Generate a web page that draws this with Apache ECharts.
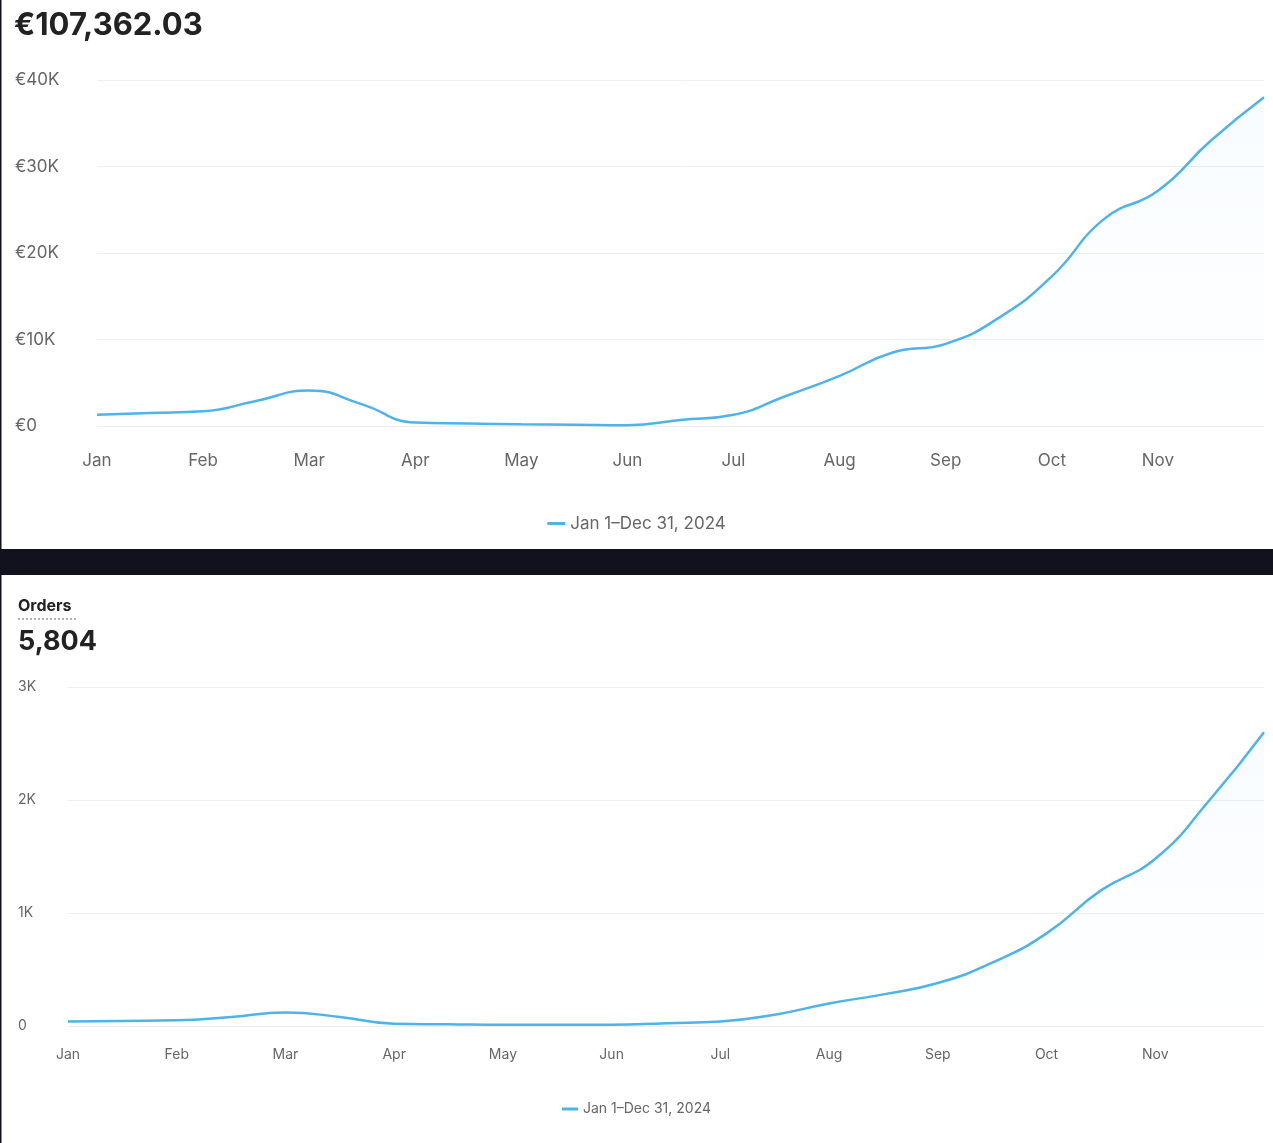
<!DOCTYPE html><html><head><meta charset="utf-8"><script src="https://cdn.jsdelivr.net/npm/echarts@6/dist/echarts.min.js"></script>
<style>html,body{margin:0;background:#fff}#c{width:1273px;height:1143px}</style></head><body><div id="c"></div><script>
const months=['Jan','Feb','Mar','Apr','May','Jun','Jul','Aug','Sep','Oct','Nov','Dec'];
const cats=[];months.forEach((m,i)=>{cats.push(m);if(i<11)cats.push(m+' 15');});
const revenue=[1300,1500,1700,2900,4100,2500,400,300,200,150,100,700,1300,3500,5800,8500,9500,12500,17300,24000,27200,33000,38000];
const orders=[40,45,50,80,120,80,20,15,10,10,10,25,40,100,200,280,380,560,820,1200,1480,2000,2600];
const legendName='Jan 1–Dec 31, 2024';
const col='#4db3ea';
const f='"Inter","Noto Sans",sans-serif';
function xa(gi,size){return {type:'category',gridIndex:gi,data:cats,boundaryGap:false,axisLine:{show:false},axisTick:{show:false},
 axisLabel:{interval:0,color:'#666',fontSize:size,fontFamily:f,margin:size===17?26:22,formatter:(v,i)=>(i%2===0&&i<22)?v:''}};}
function ya(gi,max,int,fmt,size){return {type:'value',gridIndex:gi,min:0,max:max,interval:int,axisLabel:{color:'#666',fontSize:size,fontFamily:f,formatter:fmt,align:'left',margin:gi===0?82:50},splitLine:{lineStyle:{color:'#eee'}}};}
function s(gi,d){return {type:'line',name:legendName,xAxisIndex:gi,yAxisIndex:gi,data:d,smooth:0.5,symbol:'none',lineStyle:{color:col,width:2.5},itemStyle:{color:col},
 areaStyle:{color:{type:'linear',x:0,y:0,x2:0,y2:1,colorStops:[{offset:0,color:'rgba(77,179,234,0.06)'},{offset:1,color:'rgba(77,179,234,0)'}]}}};}
const ch=echarts.init(document.getElementById('c'));
ch.setOption({animation:false,backgroundColor:'#fff',
 graphic:[{type:'rect',shape:{x:0,y:549,width:1273,height:26},style:{fill:'#12121f'}},
  {type:'rect',shape:{x:0,y:0,width:1.5,height:1143},style:{fill:'#12121f'}},
  {type:'text',left:14,top:10,style:{text:'€107,362.03',font:'bold 31px '+f,fill:'#222'}},
  {type:'text',left:18,top:598,style:{text:'Orders',font:'bold 16px '+f,fill:'#222'}},
  {type:'line',shape:{x1:18,y1:619,x2:76,y2:619},style:{stroke:'#999',lineWidth:1.5,lineDash:[2,2]}},
  {type:'text',left:18,top:628,style:{text:'5,804',font:'bold 27px '+f,fill:'#222'}}],
 legend:[{data:[legendName],left:'center',top:510,icon:'rect',itemWidth:18,itemHeight:3,textStyle:{color:'#666',fontSize:17,fontFamily:f}},
  {data:[legendName],left:'center',top:1097,icon:'rect',itemWidth:16,itemHeight:3,textStyle:{color:'#666',fontSize:14,fontFamily:f}}],
 grid:[{left:97,right:9,top:80,bottom:717},{left:68,right:9,top:687,bottom:117}],
 xAxis:[xa(0,17),xa(1,14)],
 yAxis:[ya(0,40000,10000,v=>'€'+(v?v/1000+'K':'0'),17),ya(1,3000,1000,v=>v?v/1000+'K':'0',14)],
 series:[s(0,revenue),s(1,orders)]});
</script></body></html>
